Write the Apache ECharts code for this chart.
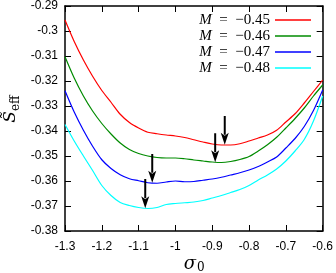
<!DOCTYPE html>
<html>
<head>
<meta charset="utf-8">
<script src="https://cdn.jsdelivr.net/npm/echarts@6/dist/echarts.min.js"></script>
<style>
  html, body { margin: 0; padding: 0; background: #fff; }
  #chart { width: 336px; height: 273px; }
</style>
</head>
<body>
<div id="chart"></div>
<script>
// sigma_0 grid
const sigma = [-1.3, -1.275, -1.25, -1.225, -1.2, -1.175, -1.15, -1.125, -1.1, -1.075,
  -1.05, -1.025, -1.0, -0.975, -0.95, -0.925, -0.9, -0.875, -0.85, -0.825,
  -0.8, -0.775, -0.75, -0.725, -0.7, -0.675, -0.65, -0.625, -0.6];

// S_eff for each M
const seffM045 = [-0.2956, -0.3042, -0.3116, -0.3181, -0.3238, -0.3285, -0.3333, -0.3366, -0.3388, -0.3405,
  -0.3411, -0.3416, -0.3420, -0.3426, -0.3435, -0.3444, -0.3452, -0.3456, -0.3456, -0.3451,
  -0.3440, -0.3428, -0.3416, -0.3397, -0.3364, -0.3331, -0.3288, -0.3242, -0.3196];
const seffM046 = [-0.3103, -0.3188, -0.3260, -0.3320, -0.3370, -0.3412, -0.3448, -0.3474, -0.3490, -0.3500,
  -0.3506, -0.3508, -0.3508, -0.3511, -0.3516, -0.3520, -0.3524, -0.3526, -0.3522, -0.3514,
  -0.3502, -0.3480, -0.3455, -0.3425, -0.3388, -0.3350, -0.3308, -0.3260, -0.3216];
const seffM047 = [-0.3239, -0.3324, -0.3397, -0.3461, -0.3515, -0.3550, -0.3575, -0.3591, -0.3599, -0.3607,
  -0.3609, -0.3604, -0.3600, -0.3603, -0.3602, -0.3597, -0.3592, -0.3585, -0.3576, -0.3567,
  -0.3556, -0.3542, -0.3524, -0.3504, -0.3468, -0.3430, -0.3382, -0.3318, -0.3236];
const seffM048 = [-0.3374, -0.3440, -0.3500, -0.3558, -0.3618, -0.3658, -0.3686, -0.3698, -0.3706, -0.3710,
  -0.3706, -0.3694, -0.3690, -0.3687, -0.3684, -0.3678, -0.3668, -0.3658, -0.3646, -0.3634,
  -0.3618, -0.3596, -0.3576, -0.3552, -0.3520, -0.3480, -0.3434, -0.3360, -0.3260];

const seriesNames = ['M = \u22120.45', 'M = \u22120.46', 'M = \u22120.47', 'M = \u22120.48'];
const seriesLabels = ['\u22120.45', '\u22120.46', '\u22120.47', '\u22120.48'];
const colors = ['#ff0000', '#008b00', '#0000ff', '#00ffff'];

// arrows marking minima: x, top of shaft, tip
const arrowX = [-0.866, -0.892, -1.063, -1.082];
const arrowTop = [-0.3340, -0.3409, -0.3492, -0.3592];
const arrowTip = [-0.3455, -0.3525, -0.3607, -0.3709];

const xTicks = { min: -1.3, max: -0.6, interval: 0.1 };
const yTicks = { min: -0.38, max: -0.29, interval: 0.01 };

const chart = echarts.init(document.getElementById('chart'), null, { renderer: 'canvas' });

const curves = [seffM045, seffM046, seffM047, seffM048];

const lineSeries = curves.map((vals, i) => ({
  name: seriesNames[i],
  type: 'line',
  data: sigma.map((s, j) => [s, vals[j]]),
  smooth: 0.3,
  symbol: 'none',
  lineStyle: { color: colors[i], width: 1.2 },
  itemStyle: { color: colors[i] },
  z: 2
}));

const arrowSeries = {
  type: 'custom',
  data: arrowX.map((x, i) => [x, arrowTop[i], arrowTip[i]]),
  renderItem: function (params, api) {
    const top = api.coord([api.value(0), api.value(1)]);
    const tip = api.coord([api.value(0), api.value(2)]);
    const hl = 12, hw = 4;
    return {
      type: 'group',
      children: [
        {
          type: 'line',
          shape: { x1: top[0], y1: top[1], x2: tip[0], y2: tip[1] - hl + 2 },
          style: { stroke: '#000', lineWidth: 2 }
        },
        {
          type: 'polygon',
          shape: {
            points: [
              [tip[0], tip[1]],
              [tip[0] - hw, tip[1] - hl],
              [tip[0], tip[1] - hl + 3],
              [tip[0] + hw, tip[1] - hl]
            ]
          },
          style: { fill: '#000' }
        }
      ]
    };
  },
  z: 5
};

const axisCommon = {
  type: 'value',
  axisLine: { show: true, onZero: false, lineStyle: { color: '#000', width: 1.5 } },
  axisTick: { show: true, inside: true, length: 6, lineStyle: { color: '#000', width: 1 } },
  splitLine: { show: false }
};

const option = {
  animation: false,
  backgroundColor: '#fff',
  grid: { left: 65, right: 10, top: 6, bottom: 42 },
  legend: {
    data: seriesNames,
    orient: 'vertical',
    right: 25,
    top: 12,
    padding: 0,
    itemGap: 0,
    itemWidth: 36,
    itemHeight: 1.5,
    icon: 'rect',
    align: 'right',
    formatter: function (name) {
      return '{i|M}\u2002=\u2002' + seriesLabels[seriesNames.indexOf(name)];
    },
    textStyle: {
      fontFamily: 'Liberation Serif',
      fontSize: 15,
      lineHeight: 16,
      color: '#000',
      rich: {
        i: { fontFamily: 'Liberation Serif', fontStyle: 'italic', fontSize: 15, lineHeight: 16, color: '#000' }
      }
    }
  },
  xAxis: [
    Object.assign({}, axisCommon, {
      min: xTicks.min, max: xTicks.max, interval: xTicks.interval,
      axisLabel: { color: '#000', fontFamily: 'Liberation Sans', fontSize: 12, margin: 10 }
    }),
    Object.assign({}, axisCommon, {
      position: 'top',
      min: xTicks.min, max: xTicks.max, interval: xTicks.interval,
      axisLabel: { show: false }
    })
  ],
  yAxis: [
    Object.assign({}, axisCommon, {
      min: yTicks.min, max: yTicks.max, interval: yTicks.interval,
      axisLabel: { color: '#000', fontFamily: 'Liberation Sans', fontSize: 12, margin: 7 }
    }),
    Object.assign({}, axisCommon, {
      position: 'right',
      min: yTicks.min, max: yTicks.max, interval: yTicks.interval,
      axisLabel: { show: false }
    })
  ],
  graphic: [
    // y axis title: S~_eff, rotated
    { type: 'text', x: 11, y: 117, rotation: Math.PI / 2,
      style: { text: 'S\u0303', fontFamily: 'DejaVu Serif', fontStyle: 'italic', fontSize: 17, fill: '#000', textAlign: 'center', textVerticalAlign: 'middle' } },
    { type: 'text', x: 16, y: 111, rotation: Math.PI / 2,
      style: { text: 'eff', fontFamily: 'DejaVu Serif', fontSize: 12, fill: '#000', textAlign: 'left', textVerticalAlign: 'middle' } },
    // x axis title: sigma_0
    { type: 'text', x: 190, y: 264,
      style: { text: '\u03c3', fontFamily: 'DejaVu Serif', fontStyle: 'italic', fontSize: 18, fill: '#000', textAlign: 'center', textVerticalAlign: 'middle' } },
    { type: 'text', x: 197, y: 268,
      style: { text: '0', fontFamily: 'DejaVu Serif', fontSize: 12, fill: '#000', textAlign: 'left', textVerticalAlign: 'middle' } }
  ],
  series: lineSeries.concat([arrowSeries])
};

chart.setOption(option);
</script>
</body>
</html>
